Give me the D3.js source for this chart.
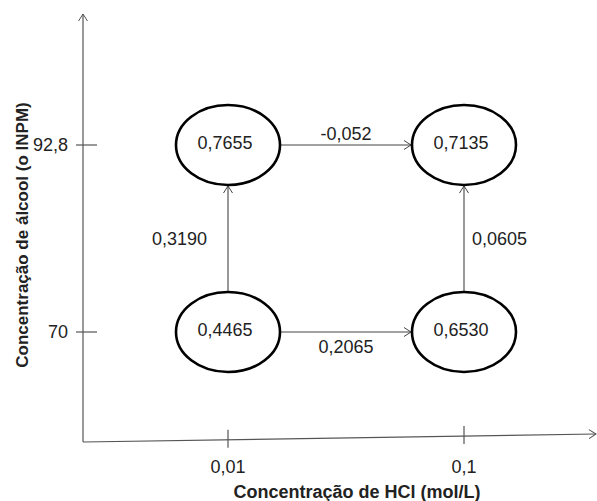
<!DOCTYPE html>
<html>
<head>
<meta charset="utf-8">
<script src="https://cdn.jsdelivr.net/npm/d3@7"></script>
<style>
  html, body { margin: 0; padding: 0; background: #fff; }
  svg { display: block; }
  text { font-family: "Liberation Sans", Arial, sans-serif; fill: #222; }
</style>
</head>
<body>
<svg id="chart" width="597" height="501"></svg>
<script>
// ---- data ----
const xCategories = ["0,01", "0,1"];
const yCategories = ["70", "92,8"];
const xTitle = "Concentração de HCl (mol/L)";
const yTitle = "Concentração de álcool (o INPM)";
const nodeX = ["0,01", "0,1", "0,01", "0,1"];
const nodeY = ["70", "70", "92,8", "92,8"];
const nodeValues = ["0,4465", "0,6530", "0,7655", "0,7135"];
const edgeFrom = [0, 2, 0, 1];
const edgeTo = [1, 3, 2, 3];
const edgeLabels = ["0,2065", "-0,052", "0,3190", "0,0605"];

// ---- layout ----
const originX = 83, originY = 442, axisTop = 14, axisRight = 596, axisRightY = 434;
const svg = d3.select("#chart");

const x = d3.scalePoint().domain(xCategories).range([228, 464]);
const y = d3.scalePoint().domain(yCategories).range([332, 145]);
const rx = 52, ry = 40;

// markers
const defs = svg.append("defs");
function chevron(id, color) {
  defs.append("marker")
    .attr("id", id)
    .attr("viewBox", "-10 -6 12 12")
    .attr("refX", 0).attr("refY", 0)
    .attr("markerWidth", 12).attr("markerHeight", 12)
    .attr("markerUnits", "userSpaceOnUse")
    .attr("orient", "auto")
    .append("path")
    .attr("d", "M-7,-4.5 L0,0 L-7,4.5")
    .attr("fill", "none")
    .attr("stroke", color)
    .attr("stroke-width", 1);
}
chevron("arrAxis", "#555");
chevron("arrEdge", "#444");

// axes
const axisG = svg.append("g").attr("stroke", "#555").attr("stroke-width", 1.2).attr("fill", "none");
axisG.append("line")
  .attr("x1", originX).attr("y1", originY)
  .attr("x2", originX).attr("y2", axisTop)
  .attr("marker-end", "url(#arrAxis)");
axisG.append("line")
  .attr("x1", originX).attr("y1", originY)
  .attr("x2", axisRight).attr("y2", axisRightY)
  .attr("marker-end", "url(#arrAxis)");

const xAxisYAt = px => originY + (axisRightY - originY) * (px - originX) / (axisRight - originX);

// x ticks
xCategories.forEach(c => {
  const px = x(c), py = xAxisYAt(px);
  axisG.append("line").attr("x1", px).attr("x2", px).attr("y1", py - 10).attr("y2", py + 8);
  svg.append("text").attr("x", px).attr("y", 473)
    .attr("text-anchor", "middle").attr("font-size", 18).text(c);
});
// y ticks
yCategories.forEach(c => {
  const py = y(c);
  axisG.append("line").attr("x1", originX - 7).attr("x2", originX + 14).attr("y1", py).attr("y2", py);
  svg.append("text").attr("x", 68).attr("y", py).attr("dy", "0.36em")
    .attr("text-anchor", "end").attr("font-size", 18).text(c);
});

// titles
svg.append("text").attr("x", 357).attr("y", 498)
  .attr("text-anchor", "middle").attr("font-size", 18).attr("font-weight", "bold")
  .attr("fill", "#111").text(xTitle);
svg.append("text")
  .attr("transform", "translate(28,235) rotate(-90)")
  .attr("text-anchor", "middle").attr("font-size", 17).attr("font-weight", "bold")
  .attr("fill", "#111").text(yTitle);

// nodes
const nodes = nodeValues.map((v, i) => ({ value: v, cx: x(nodeX[i]), cy: y(nodeY[i]) }));

// edges
const edges = edgeLabels.map((l, i) => ({ label: l, a: nodes[edgeFrom[i]], b: nodes[edgeTo[i]] }));
const edgeG = svg.append("g");
edges.forEach(e => {
  const horizontal = Math.abs(e.a.cy - e.b.cy) < 1;
  let x1, y1, x2, y2;
  if (horizontal) {
    x1 = e.a.cx + rx + 1; x2 = e.b.cx - rx - 1; y1 = y2 = e.a.cy;
  } else {
    x1 = x2 = e.a.cx; y1 = e.a.cy - ry - 1; y2 = e.b.cy + ry + 1;
  }
  edgeG.append("line")
    .attr("x1", x1).attr("y1", y1).attr("x2", x2).attr("y2", y2)
    .attr("stroke", "#444").attr("stroke-width", 1.1)
    .attr("marker-end", "url(#arrEdge)");
  const t = edgeG.append("text").attr("font-size", 18).text(e.label);
  if (horizontal) {
    const above = e.a.cy < 200;
    t.attr("x", (x1 + x2) / 2).attr("text-anchor", "middle")
     .attr("y", above ? y1 - 5 : y1 + 21);
  } else {
    const left = e.a.cx < 300;
    t.attr("x", left ? x1 - 21 : x1 + 8)
     .attr("text-anchor", left ? "end" : "start")
     .attr("y", (y1 + y2) / 2).attr("dy", "0.36em");
  }
});

// ellipses
const nodeG = svg.append("g").selectAll("g").data(nodes).join("g");
nodeG.append("ellipse")
  .attr("cx", d => d.cx).attr("cy", d => d.cy)
  .attr("rx", rx).attr("ry", ry)
  .attr("fill", "#fff").attr("stroke", "#000").attr("stroke-width", 2.6);
nodeG.append("text")
  .attr("x", d => d.cx - 3).attr("y", d => d.cy - 2).attr("dy", "0.36em")
  .attr("text-anchor", "middle").attr("font-size", 18)
  .text(d => d.value);
</script>
</body>
</html>
